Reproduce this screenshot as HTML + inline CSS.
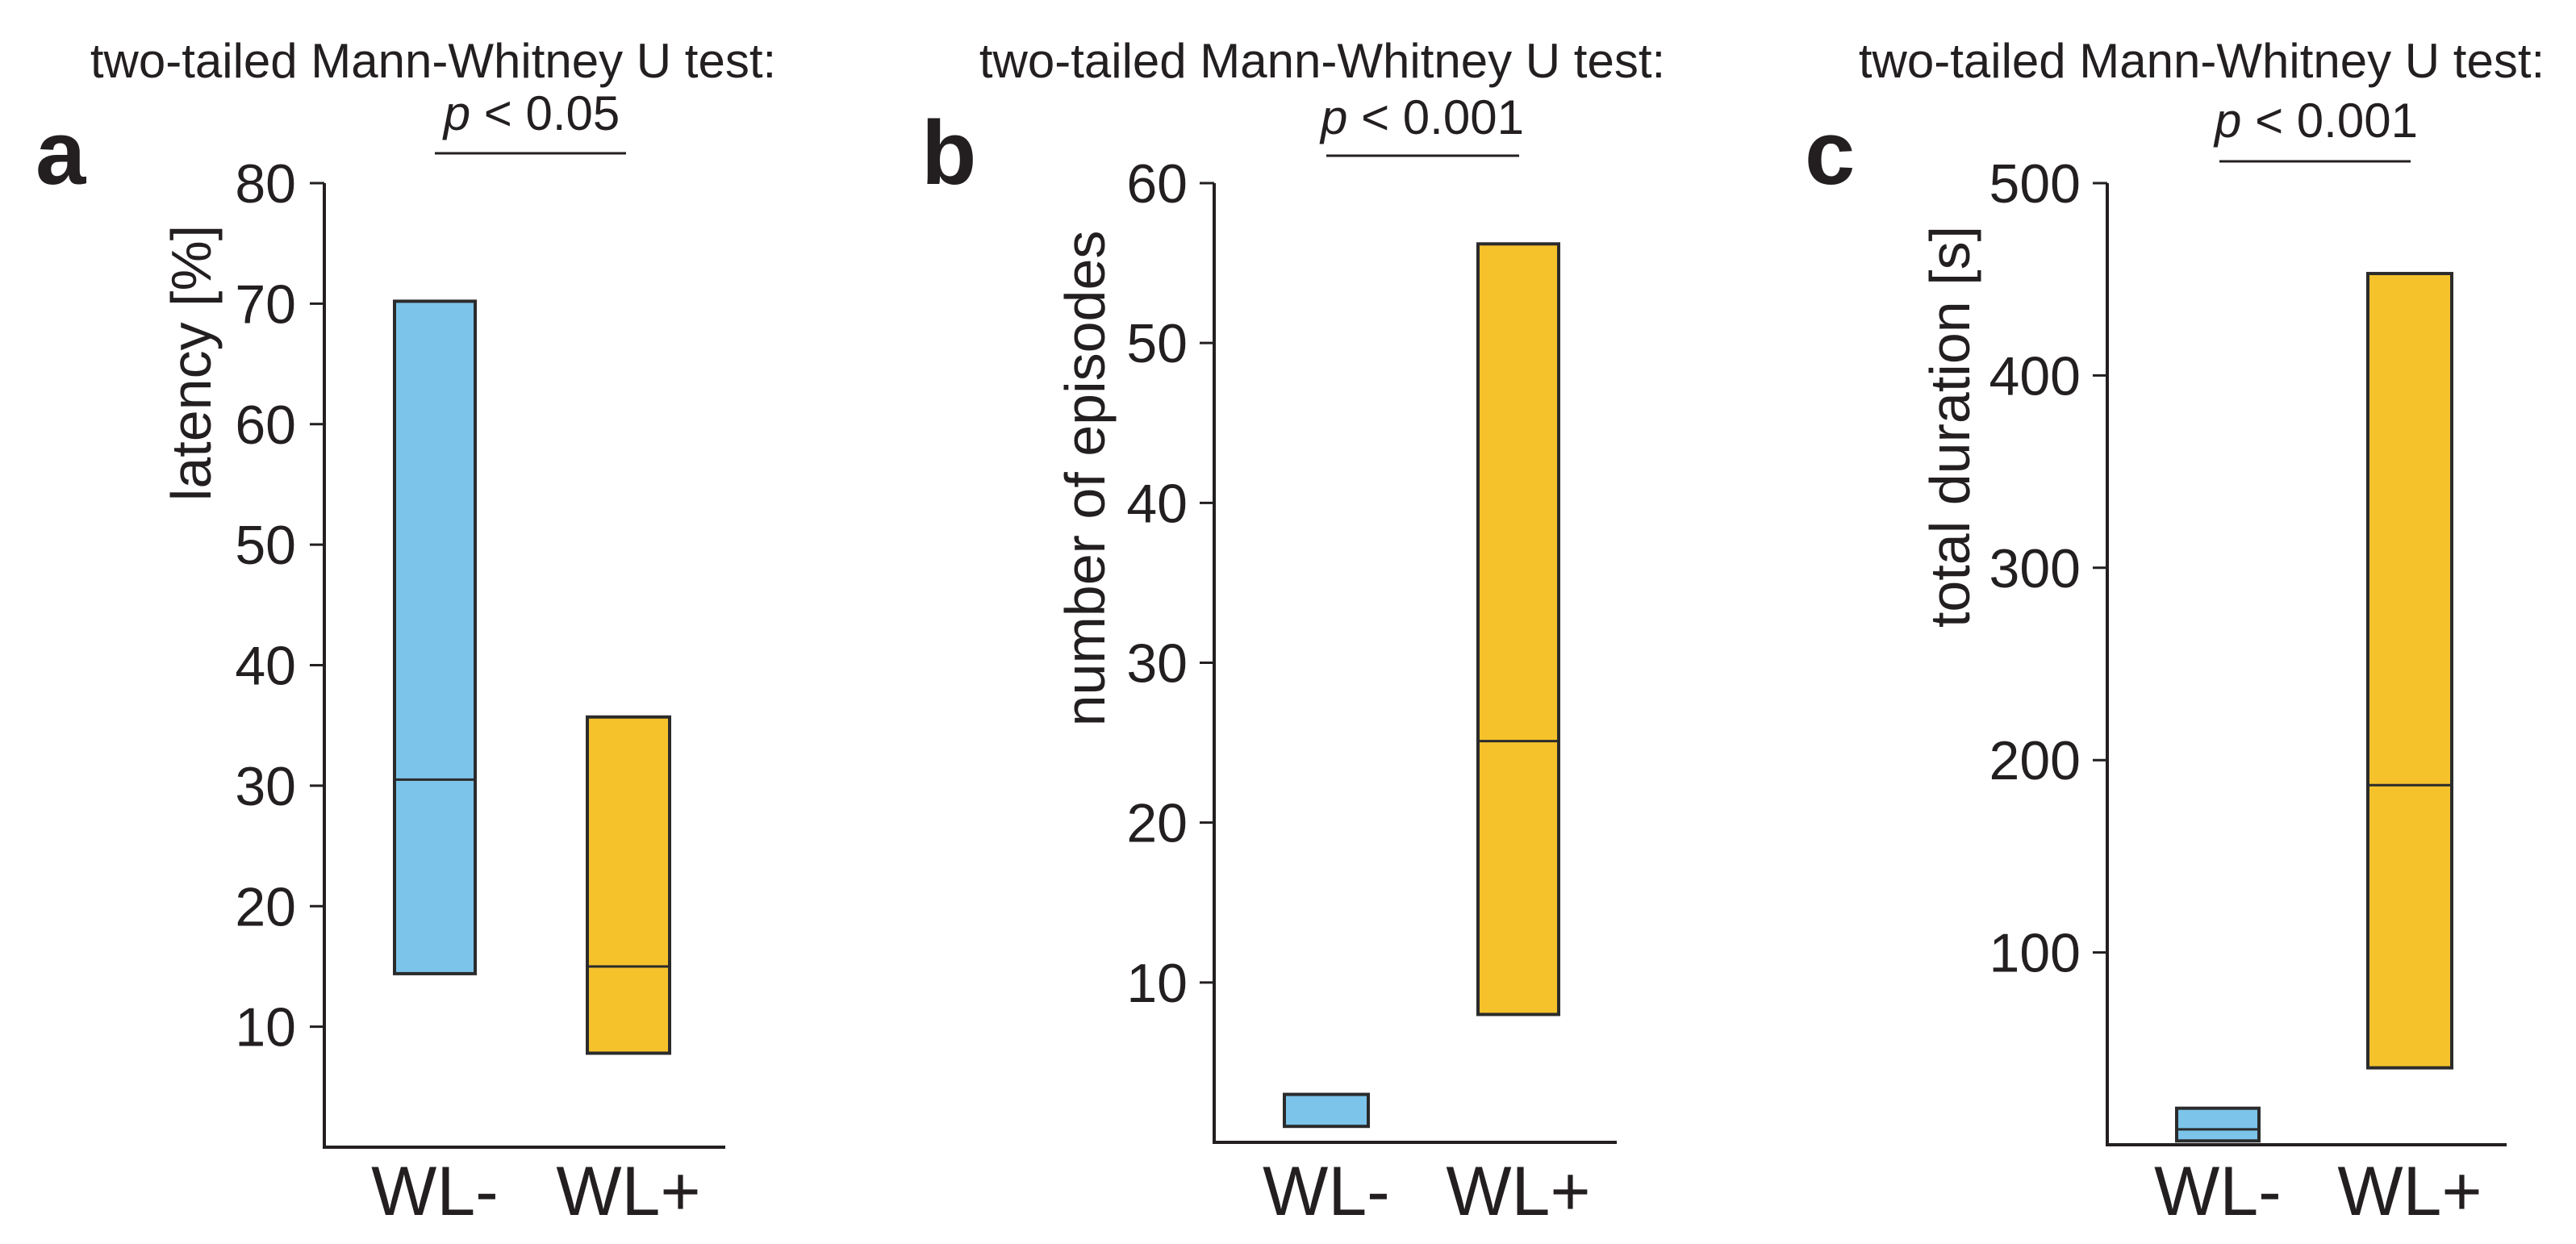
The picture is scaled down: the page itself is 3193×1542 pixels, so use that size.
<!DOCTYPE html>
<html><head><meta charset="utf-8"><style>
html,body{margin:0;padding:0;background:#fff;}
svg{display:block;font-family:"Liberation Sans",Arial,sans-serif;}
</style></head><body>
<svg id="fig" width="3193" height="1542" viewBox="0 0 3193 1542"></svg>
<script>
// Panel data
const categories = ["WL-", "WL+"];
const panelLetters = ["a", "b", "c"];
const yTitles = ["latency [%]", "number of episodes", "total duration [s]"];
const pTexts = ["0.05", "0.001", "0.001"];
const ticksA = [10, 20, 30, 40, 50, 60, 70, 80];
const ticksB = [10, 20, 30, 40, 50, 60];
const ticksC = [100, 200, 300, 400, 500];
const lowA = [14.4, 7.8], medA = [30.5, 15], highA = [70.2, 35.7];
const lowB = [1, 8], medB = [null, 25.1], highB = [3, 56.2];
const lowC = [2, 40], medC = [8, 187], highC = [19, 453];

const NS = "http://www.w3.org/2000/svg";
const svg = document.getElementById("fig");
function mk(tag, attrs, parent) {
  const e = document.createElementNS(NS, tag);
  for (const k in attrs) e.setAttribute(k, attrs[k]);
  (parent || svg).appendChild(e);
  return e;
}
const INK = "#231f20";
const COLORS = ["#7cc4ea", "#f5c22c"];

const layouts = [
  {ax: 402, axEnd: 899, yTop: 227, y0: 1422, yMax: 80, barX: [489, 728], barW: [100, 102], tickRight: 367,
   titleX: 537, pX: 659, pY: 153, ulX: [539, 776], ulY: 190, letterX: 44, ylX: 236, ylY: 450},
  {ax: 1505, axEnd: 2004, yTop: 227, y0: 1416, yMax: 60, barX: [1592, 1832], barW: [104, 100], tickRight: 1472,
   titleX: 1639, pX: 1763, pY: 158, ulX: [1644, 1883], ulY: 193, letterX: 1142, ylX: 1344, ylY: 593},
  {ax: 2612, axEnd: 3107, yTop: 227, y0: 1419, yMax: 500, barX: [2698, 2935], barW: [102, 104], tickRight: 2579,
   titleX: 2729, pX: 2871, pY: 162, ulX: [2751, 2988], ulY: 200, letterX: 2237, ylX: 2416, ylY: 529}
];
const ticksAll = [ticksA, ticksB, ticksC];
const lows = [lowA, lowB, lowC], meds = [medA, medB, medC], highs = [highA, highB, highC];
const names = ["latency", "episodes", "duration"];

layouts.forEach((L, p) => {
  const g = mk("g", {});
  
  
  const yScale = v => L.y0 - (v / L.yMax) * (L.y0 - L.yTop);
  const t = mk("text", {x: L.titleX, y: 96, "text-anchor": "middle", "font-size": 60, fill: INK}, g);
  t.textContent = "two-tailed Mann-Whitney U test:";
  
  
  const pt = mk("text", {x: L.pX, y: L.pY + 22 - 14, "text-anchor": "middle", "font-size": 60, fill: INK}, g);
  pt.innerHTML = '<tspan font-style="italic">p</tspan> &lt; ' + pTexts[p];
  
  
  const ul = mk("line", {x1: L.ulX[0], x2: L.ulX[1], y1: L.ulY, y2: L.ulY, stroke: INK, "stroke-width": 3}, g);
  
  
  const let_ = mk("text", {x: L.letterX, y: 228, "font-size": 112, "font-weight": "bold", fill: INK}, g);
  let_.textContent = panelLetters[p];
  
  
  const yl = mk("text", {x: 0, y: 0, "text-anchor": "middle", "font-size": 70, fill: INK,
    transform: `translate(${L.ylX + 25},${L.ylY}) rotate(-90)`}, g);
  yl.textContent = yTitles[p];
  
  
  const ya = mk("line", {x1: L.ax, x2: L.ax, y1: L.yTop, y2: L.y0, stroke: INK, "stroke-width": 4}, g);
  
  
  const xa = mk("line", {x1: L.ax - 2, x2: L.axEnd, y1: L.y0, y2: L.y0, stroke: INK, "stroke-width": 4}, g);
  
  
  ticksAll[p].forEach(v => {
    const y = yScale(v);
    const tk = mk("line", {x1: L.ax - 18, x2: L.ax, y1: y, y2: y, stroke: INK, "stroke-width": 3}, g);
    
    
    const tl = mk("text", {x: L.tickRight, y: y + 24, "text-anchor": "end", "font-size": 68, fill: INK}, g);
    tl.textContent = v;
    
    
  });
  categories.forEach((c, i) => {
    const x = L.barX[i], w = L.barW[i];
    const yt = yScale(highs[p][i]), yb = yScale(lows[p][i]);
    const r = mk("rect", {x: x, y: yt, width: w, height: yb - yt, fill: COLORS[i], stroke: "#2b2b2b", "stroke-width": 4}, g);
    
    
    if (meds[p][i] !== null) {
      const ym = yScale(meds[p][i]);
      const m = mk("line", {x1: x, x2: x + w, y1: ym, y2: ym, stroke: "#2b2b2b", "stroke-width": 3}, g);
      
      
    }
    const xl = mk("text", {x: x + w / 2, y: 1506, "text-anchor": "middle", "font-size": 86, fill: INK}, g);
    xl.textContent = c;
    
    
  });
});
</script>
</body></html>
